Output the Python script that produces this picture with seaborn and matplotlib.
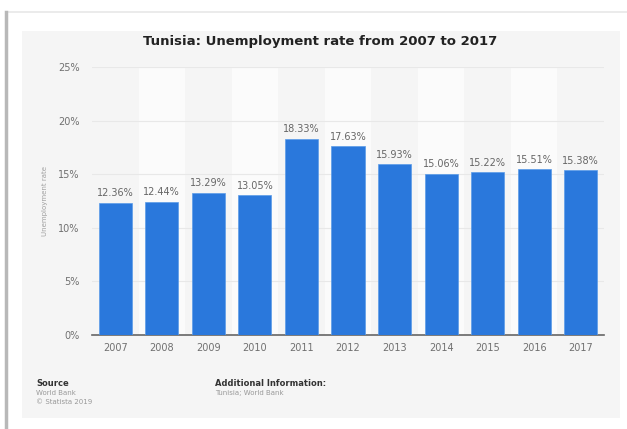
import seaborn as sns
import matplotlib.pyplot as plt
from matplotlib.patches import Rectangle
from matplotlib.lines import Line2D
from matplotlib.ticker import FuncFormatter

years = ['2007', '2008', '2009', '2010', '2011', '2012',
         '2013', '2014', '2015', '2016', '2017']
rates = [12.36, 12.44, 13.29, 13.05, 18.33, 17.63,
         15.93, 15.06, 15.22, 15.51, 15.38]
y_ticks = [0, 5, 10, 15, 20, 25]

W, H = 627, 429
fig = plt.figure(figsize=(W / 100, H / 100), dpi=100)
fig.patch.set_facecolor('white')

# Card frame: light top line, left shadow, grey panel
fig.add_artist(Line2D([6 / W, 1], [1 - 12 / H, 1 - 12 / H], color='#e8e8e8', lw=1.2))
fig.add_artist(Line2D([6 / W, 6 / W], [0, 1 - 12 / H], color='#b8b8b8', lw=2.5))
fig.add_artist(Rectangle((22 / W, 1 - 418 / H), (620 - 22) / W, (418 - 31) / H,
                         transform=fig.transFigure, facecolor='#f5f5f5',
                         edgecolor='none', zorder=0))

ax = fig.add_axes([92 / W, 1 - 335 / H, (604 - 92) / W, (335 - 67) / H])
ax.set_facecolor('none')

# lighter bands behind every other year
for i in range(1, len(years), 2):
    ax.axvspan(i - 0.5, i + 0.5, color='#fbfbfb', zorder=0, lw=0)

sns.barplot(x=years, y=rates, color='#2a78dc', saturation=1, width=0.71,
            edgecolor='#5a9be8', linewidth=0.5, ax=ax, zorder=3)

ax.set_ylim(0, 25)
ax.set_xlim(-0.5, len(years) - 0.5)
ax.set_yticks(y_ticks)
ax.yaxis.set_major_formatter(FuncFormatter(lambda v, p: f'{v:.0f}%'))
ax.grid(axis='y', color='#e8e8e8', lw=0.8, zorder=1)
ax.set_axisbelow(True)
for s in ['top', 'right', 'left']:
    ax.spines[s].set_visible(False)
ax.spines['bottom'].set_color('#666666')
ax.spines['bottom'].set_linewidth(1.2)
ax.tick_params(axis='both', length=0, labelsize=7, colors='#707070')
ax.tick_params(axis='x', pad=6)
ax.tick_params(axis='y', pad=9)
ax.set_xlabel('')
ax.set_ylabel('Unemployment rate', fontsize=5, color='#a0a0a0')
ax.yaxis.set_label_coords((48 - 92) / (604 - 92), 0.5)

ax.bar_label(ax.containers[0], labels=[f'{v:.2f}%' for v in rates],
             fontsize=7, color='#666666', padding=3)

fig.text(320 / W, 1 - 42 / H, 'Tunisia: Unemployment rate from 2007 to 2017',
         ha='center', va='center', fontsize=9.5, fontweight='bold', color='#222222')

fig.text(36 / W, 1 - 384 / H, 'Source', fontsize=6, fontweight='bold',
         color='#333333', va='center')
fig.text(36 / W, 1 - 393 / H, 'World Bank', fontsize=5, color='#999999', va='center')
fig.text(36 / W, 1 - 402 / H, '© Statista 2019', fontsize=5, color='#999999', va='center')
fig.text(215 / W, 1 - 384 / H, 'Additional Information:', fontsize=6,
         fontweight='bold', color='#333333', va='center')
fig.text(215 / W, 1 - 393 / H, 'Tunisia; World Bank', fontsize=5,
         color='#999999', va='center')

fig.savefig('out.png', dpi=100)
